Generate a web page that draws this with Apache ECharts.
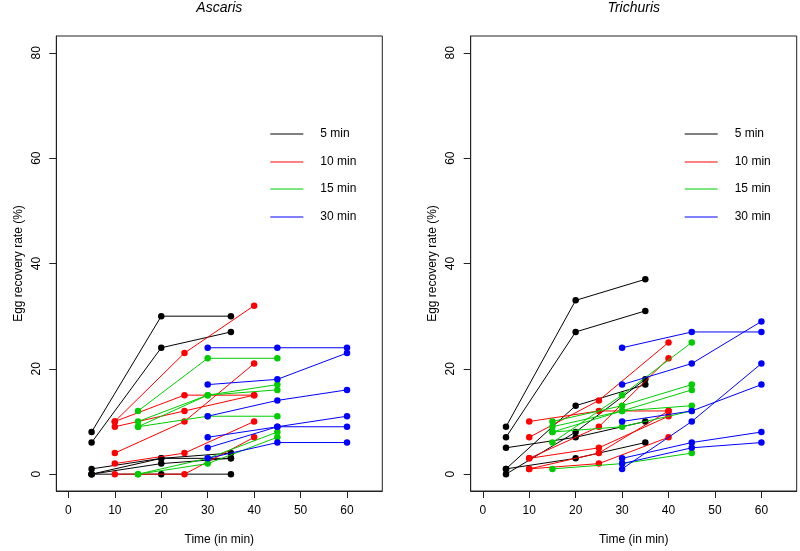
<!DOCTYPE html>
<html>
<head>
<meta charset="utf-8">
<script src="https://cdn.jsdelivr.net/npm/echarts@6/dist/echarts.min.js"></script>
<style>html,body{margin:0;padding:0;background:#fff}#c{width:800px;height:551px}</style>
</head>
<body>
<div id="c"></div>
<script>
// Time points for each group (min)
const times5 = [5, 20, 35];
const times10 = [10, 25, 40];
const times15 = [15, 30, 45];
const times30 = [30, 45, 60];

// Ascaris egg recovery rate (%) lines per group
const ascaris5 = [[8, 30, 30], [6, 24, 27], [1, 3, 4], [0, 3, 3], [0, 2, 3], [0, 0, 0]];
const ascaris10 = [[10, 23, 32], [10, 15, 15], [9, 12, 15], [4, 10, 21], [2, 4, 10], [0, 0, 7]];
const ascaris15 = [[12, 22, 22], [10, 15, 17], [9, 15, 16], [9, 11, 11], [0, 2, 7], [0, 3, 8]];
const ascaris30 = [[24, 24, 24], [17, 18, 23], [11, 14, 16], [7, 9, 11], [5, 9, 9], [3, 6, 6]];

// Trichuris egg recovery rate (%) lines per group
const trichuris5 = [[9, 33, 37], [7, 27, 31], [5, 7, 10], [1, 13, 17], [0, 8, 18], [1, 3, 6]];
const trichuris10 = [[10, 12, 12], [7, 14, 25], [3, 9, 22], [3, 5, 11], [1, 4, 12], [1, 2, 7]];
const trichuris15 = [[6, 15, 25], [10, 13, 17], [9, 12, 16], [8, 12, 13], [8, 9, 12], [1, 2, 4]];
const trichuris30 = [[24, 27, 27], [17, 21, 29], [10, 12, 17], [1, 10, 21], [3, 6, 8], [2, 5, 6]];

const groupNames = ['5 min', '10 min', '15 min', '30 min'];
const panelTitles = ['Ascaris', 'Trichuris'];
const xTicks = [0, 10, 20, 30, 40, 50, 60];
const yTicks = [0, 20, 40, 60, 80];
const xTitle = 'Time (in min)';
const yTitle = 'Egg recovery rate (%)';

const groupColors = ['#000000', '#FF0000', '#00CD00', '#0000FF'];
const FONT = 'Liberation Sans, Arial, Helvetica, sans-serif';

const panels = [
  [ascaris5, ascaris10, ascaris15, ascaris30],
  [trichuris5, trichuris10, trichuris15, trichuris30]
];
const groupTimes = [times5, times10, times15, times30];

const gridLefts = [56.3, 470.7];
const gridW = 326;

const series = [];
panels.forEach((groups, p) => {
  groups.forEach((lines, g) => {
    lines.forEach(vals => {
      series.push({
        type: 'line',
        name: groupNames[g],
        xAxisIndex: p,
        yAxisIndex: p,
        data: groupTimes[g].map((t, i) => [t, vals[i]]),
        color: groupColors[g],
        symbol: 'circle',
        symbolSize: 6.5,
        showSymbol: true,
        lineStyle: { width: 1, color: groupColors[g] },
        itemStyle: { color: groupColors[g] },
        emphasis: { disabled: true },
        animation: false,
        z: 2 + g
      });
    });
  });
});

// Legend (drawn as graphic elements: a short line + label per group)
const legendGraphics = [];
[0, 1].forEach(p => {
  const lx = gridLefts[p] + 214;
  groupNames.forEach((n, i) => {
    const ly = Math.round(133.7 + i * 27.8);
    legendGraphics.push({
      type: 'line',
      silent: true,
      shape: { x1: lx, y1: ly, x2: lx + 33, y2: ly },
      style: { stroke: groupColors[i], lineWidth: 1 }
    });
    legendGraphics.push({
      type: 'text',
      silent: true,
      x: lx + 50,
      y: ly,
      style: { text: n, fill: '#000', font: '12px ' + FONT, textVerticalAlign: 'middle', verticalAlign: 'middle' }
    });
  });
});

const axisText = { color: '#000', fontSize: 12, fontFamily: FONT };

const option = {
  animation: false,
  backgroundColor: '#fff',
  title: panelTitles.map((t, p) => ({
    text: t,
    left: gridLefts[p] + gridW / 2,
    textAlign: 'center',
    top: 1,
    padding: 0,
    textStyle: { fontStyle: 'italic', fontWeight: 'normal', fontSize: 14, color: '#000', fontFamily: FONT }
  })),
  graphic: legendGraphics,
  grid: [0, 1].map(p => ({
    left: gridLefts[p],
    top: 36,
    width: gridW,
    height: 456.3,
    show: true,
    borderColor: '#222',
    borderWidth: 1,
    backgroundColor: 'transparent',
    containLabel: false
  })),
  xAxis: [0, 1].map(p => ({
    type: 'value',
    gridIndex: p,
    min: -2.6,
    max: 67.6,
    name: xTitle,
    nameLocation: 'middle',
    nameGap: 43,
    nameTextStyle: axisText,
    axisLine: { show: true, onZero: false, lineStyle: { color: '#222', width: 1 } },
    axisTick: { show: true, length: 7, customValues: xTicks, lineStyle: { color: '#222' } },
    axisLabel: Object.assign({ customValues: xTicks, margin: 14 }, axisText),
    splitLine: { show: false }
  })),
  yAxis: [0, 1].map(p => ({
    type: 'value',
    gridIndex: p,
    min: -3.2,
    max: 83.2,
    name: yTitle,
    nameLocation: 'middle',
    nameGap: 32,
    nameTextStyle: axisText,
    axisLine: { show: true, onZero: false, lineStyle: { color: '#222', width: 1 } },
    axisTick: { show: true, length: 7, customValues: yTicks, lineStyle: { color: '#222' } },
    axisLabel: Object.assign({ customValues: yTicks, margin: 14, rotate: 90 }, axisText),
    splitLine: { show: false }
  })),
  series: series
};

const chart = echarts.init(document.getElementById('c'), null, { renderer: 'canvas' });
chart.setOption(option);
</script>
</body>
</html>
